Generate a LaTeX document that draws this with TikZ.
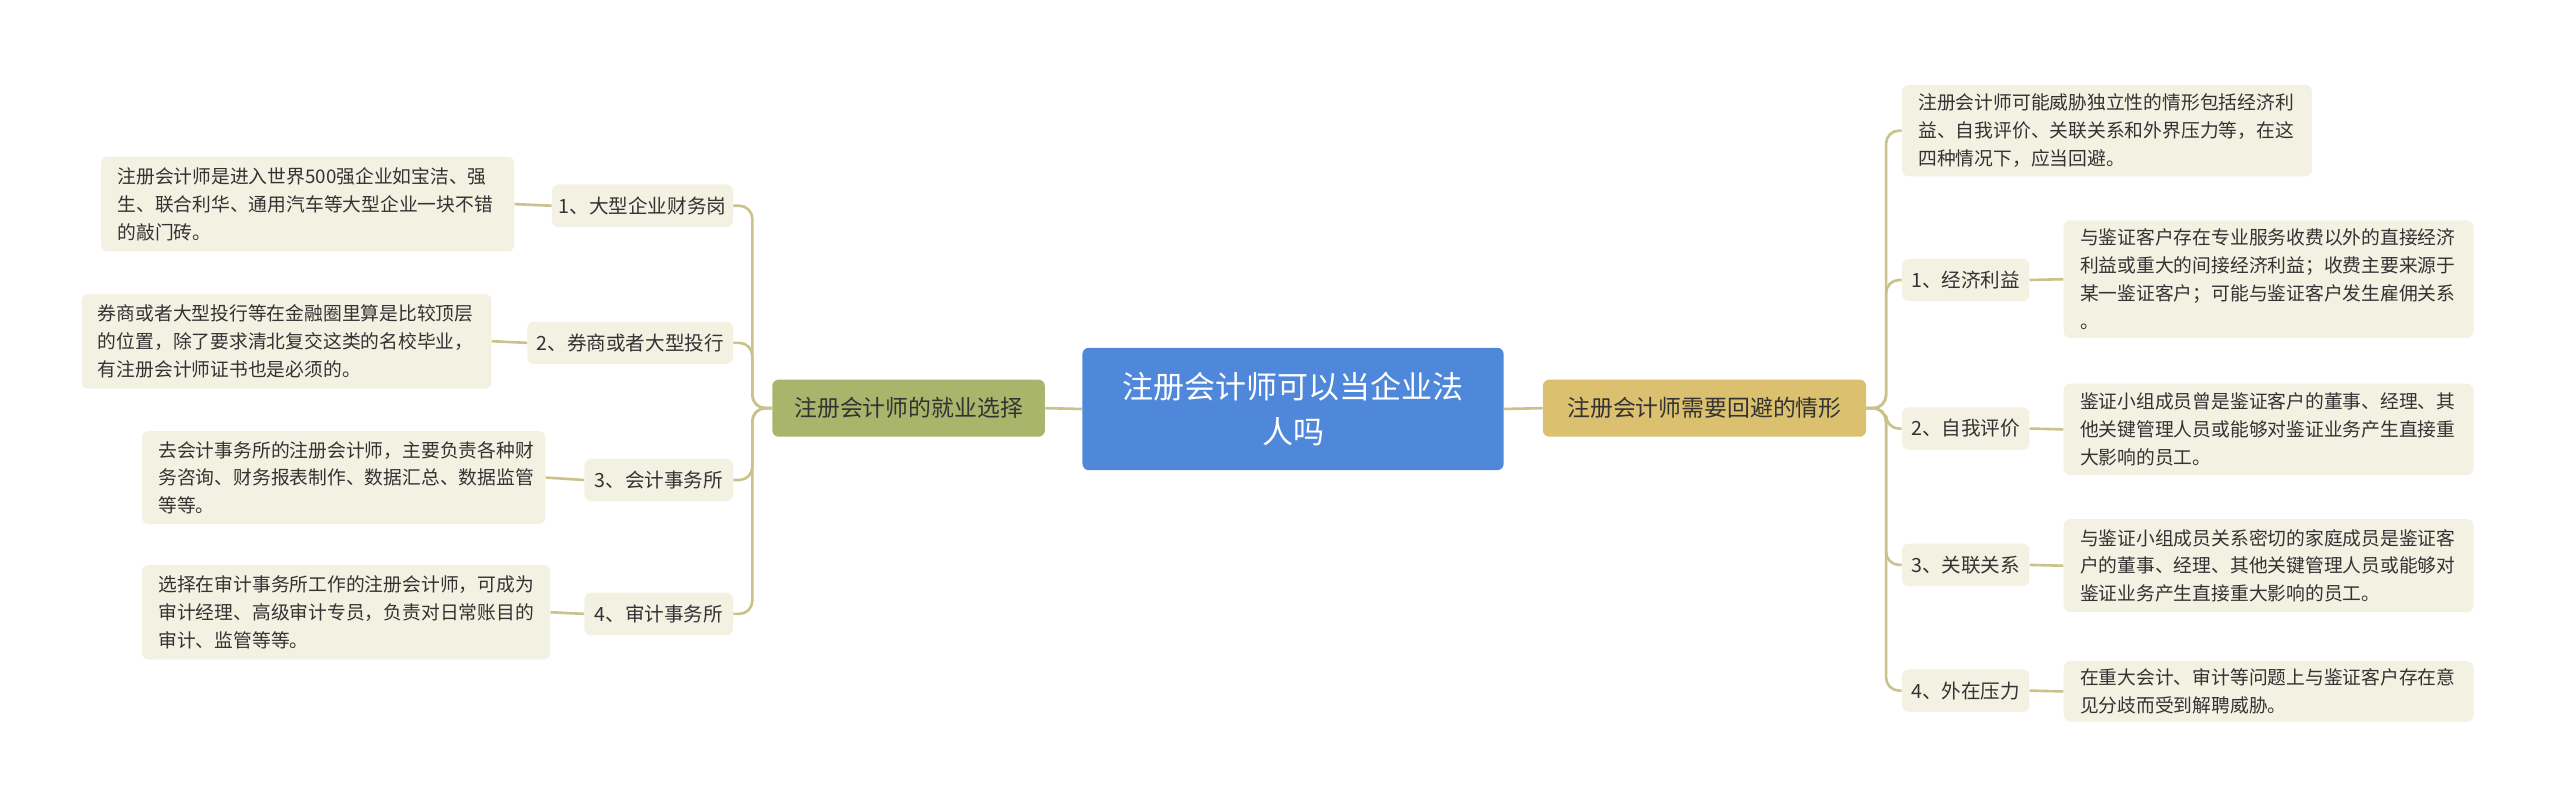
\documentclass[tikz,border=0pt]{standalone}
\usepackage{fontspec}
\setmainfont{Noto Sans CJK SC}
\definecolor{conn}{HTML}{C9C28A}
\definecolor{leafbg}{HTML}{F3F1E2}
\definecolor{cblue}{HTML}{4F87DA}
\definecolor{lgreen}{HTML}{A9B56B}
\definecolor{rtan}{HTML}{DAC06F}
\definecolor{txt}{HTML}{333333}
\begin{document}
\begin{tikzpicture}[x=1pt,y=-1pt,
  box/.style={rounded corners=4pt,inner sep=0pt,text=txt},
  leaf/.style={box,fill=leafbg,align=left,font=\fontsize{11.5pt}{17pt}\selectfont},
  sub/.style={box,fill=leafbg,minimum height=26pt,font=\fontsize{12pt}{14pt}\selectfont},
  main/.style={box,minimum height=35pt,font=\fontsize{14pt}{17pt}\selectfont},
  link/.style={draw=conn,line width=1.6pt,rounded corners=8pt}]
\useasboundingbox (0,0) rectangle (1568,494);
\node[box,fill=cblue,text=white,minimum width=258pt,minimum height=75pt,align=center,font=\fontsize{19pt}{27pt}\selectfont] (c) at (792,250.5) {注册会计师可以当企业法\\人吗};
\node[main,fill=lgreen,minimum width=167pt] (lm) at (556.5,250) {注册会计师的就业选择};
\node[main,fill=rtan,minimum width=198pt] (rm) at (1044,250) {注册会计师需要回避的情形};
% left subs
\node[sub,minimum width=111pt] (s1) at (393.5,126) {1、大型企业财务岗};
\node[sub,minimum width=126pt] (s2) at (386,210) {2、券商或者大型投行};
\node[sub,minimum width=91pt] (s3) at (403.5,294) {3、会计事务所};
\node[sub,minimum width=91pt] (s4) at (403.5,376) {4、审计事务所};
% left leaves
\node[leaf,text width=233pt,minimum height=58pt,inner xsep=10pt] (l1) at (188.5,125) {注册会计师是进入世界500强企业如宝洁、强\\生、联合利华、通用汽车等大型企业一块不错\\的敲门砖。};
\node[leaf,text width=231pt,minimum height=58pt,inner xsep=10pt] (l2) at (175.5,209) {券商或者大型投行等在金融圈里算是比较顶层\\的位置，除了要求清北复交这类的名校毕业，\\有注册会计师证书也是必须的。};
\node[leaf,text width=227pt,minimum height=57pt,inner xsep=10pt] (l3) at (210.5,292.5) {去会计事务所的注册会计师，主要负责各种财\\务咨询、财务报表制作、数据汇总、数据监管\\等等。};
\node[leaf,text width=230pt,minimum height=58pt,inner xsep=10pt] (l4) at (212,375) {选择在审计事务所工作的注册会计师，可成为\\审计经理、高级审计专员，负责对日常账目的\\审计、监管等等。};
% right
\node[leaf,text width=231pt,minimum height=56pt,inner xsep=10pt] (r0) at (1290.5,80) {注册会计师可能威胁独立性的情形包括经济利\\益、自我评价、关联关系和外界压力等，在这\\四种情况下，应当回避。};
\node[sub,minimum width=78pt] (rs1) at (1204,171.5) {1、经济利益};
\node[sub,minimum width=78pt] (rs2) at (1204,262.5) {2、自我评价};
\node[sub,minimum width=78pt] (rs3) at (1204,346) {3、关联关系};
\node[sub,minimum width=78pt] (rs4) at (1204,423) {4、外在压力};
\node[leaf,text width=231pt,minimum height=72pt,inner xsep=10pt] (rl1) at (1389.5,171) {与鉴证客户存在专业服务收费以外的直接经济\\利益或重大的间接经济利益；收费主要来源于\\某一鉴证客户；可能与鉴证客户发生雇佣关系\\。};
\node[leaf,text width=231pt,minimum height=56pt,inner xsep=10pt] (rl2) at (1389.5,263) {鉴证小组成员曾是鉴证客户的董事、经理、其\\他关键管理人员或能够对鉴证业务产生直接重\\大影响的员工。};
\node[leaf,text width=231pt,minimum height=57pt,inner xsep=10pt] (rl3) at (1389.5,346.5) {与鉴证小组成员关系密切的家庭成员是鉴证客\\户的董事、经理、其他关键管理人员或能够对\\鉴证业务产生直接重大影响的员工。};
\node[leaf,text width=231pt,minimum height=37pt,inner xsep=10pt] (rl4) at (1389.5,423.5) {在重大会计、审计等问题上与鉴证客户存在意\\见分歧而受到解聘威胁。};
% connectors
\draw[link] (c.west) -- (lm.east);
\draw[link] (c.east) -- (rm.west);
\foreach \s in {s1,s2,s3,s4}{\draw[link] (lm.west) -- ++(-12,0) |- (\s.east);}
\draw[link] (s1.west) -- (l1.east);
\draw[link] (s2.west) -- (l2.east);
\draw[link] (s3.west) -- (l3.east);
\draw[link] (s4.west) -- (l4.east);
\foreach \s in {r0,rs1,rs2,rs3,rs4}{\draw[link] (rm.east) -- ++(12,0) |- (\s.west);}
\draw[link] (rs1.east) -- (rl1.west);
\draw[link] (rs2.east) -- (rl2.west);
\draw[link] (rs3.east) -- (rl3.west);
\draw[link] (rs4.east) -- (rl4.west);
\end{tikzpicture}
\end{document}
